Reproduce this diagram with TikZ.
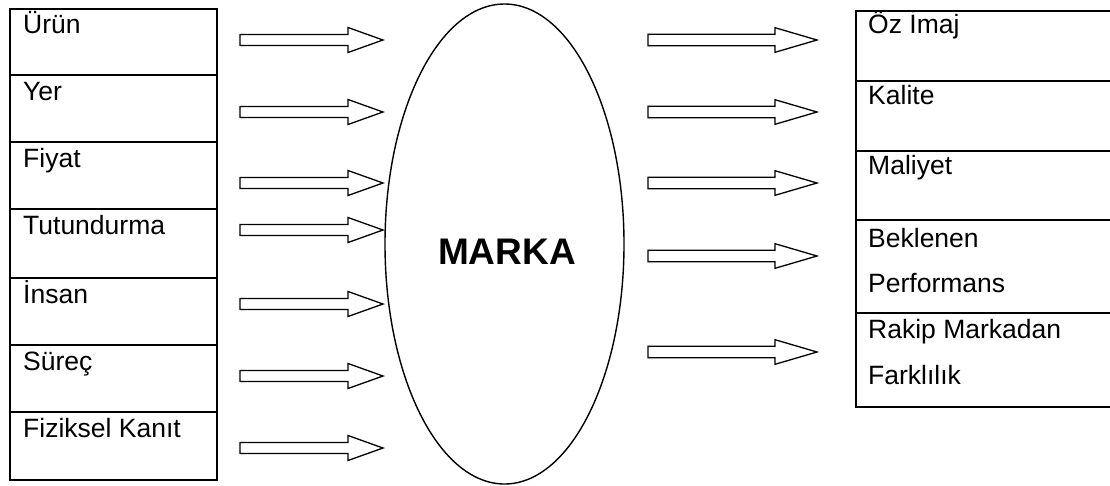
\documentclass[tikz,border=0pt]{standalone}
\usepackage{fontspec}
\setmainfont{Liberation Sans}
\tikzset{
  kutu/.style={line width=2.2pt},
  okucu/.style={line width=1.3pt, line join=miter},
  yazi/.style={anchor=base west, inner sep=0pt, font=\fontsize{26.5}{46}\selectfont},
}

\begin{document}
\begin{tikzpicture}[x=1pt, y=-1pt]
  \useasboundingbox (0,0) rectangle (1110,485);

  % left column of boxes
  \draw[kutu] (10,9) rectangle (217,480);
  \foreach \y in {75,142,209,278,345,412}
    \draw[kutu] (10,\y) -- (217,\y);
  \node[yazi] (urun) at (23,33) {Ürün};
  \node[yazi] (yer) at (23,100) {Yer};
  \node[yazi] (fiyat) at (23,167) {Fiyat};
  \node[yazi] (tutundurma) at (23,234) {Tutundurma};
  \node[yazi] (insan) at (23,303) {İnsan};
  \node[yazi] (surec) at (23,370) {Süreç};
  \node[yazi] (kanit) at (23,437) {Fiziksel Kanıt};

  % arrows into the brand
  \foreach \y in {40,112,183,230,304,376,448}
    \draw[okucu] (240,\y-5.5) -- (348,\y-5.5) -- (348,\y-12.5) -- (383,\y)
      -- (348,\y+12.5) -- (348,\y+5.5) -- (240,\y+5.5) -- cycle;

  % the brand itself
  \draw[line width=1.4pt] (504.5,244) ellipse [x radius=119.5, y radius=240];
  \node[font=\fontsize{37}{40}\selectfont\bfseries] (marka) at (507,252) {MARKA};

  % arrows out of the brand
  \foreach \y in {40,112,183,256,352}
    \draw[okucu] (648,\y-5.8) -- (775,\y-5.8) -- (775,\y-12.3) -- (817,\y)
      -- (775,\y+12.3) -- (775,\y+5.8) -- (648,\y+5.8) -- cycle;

  % right column of boxes
  \draw[kutu] (1115,11) -- (856,11) -- (856,407) -- (1115,407);
  \foreach \y in {81,151,220,313}
    \draw[kutu] (856,\y) -- (1115,\y);
  \node[yazi] (imaj) at (868,33) {Öz İmaj};
  \node[yazi] (kalite) at (868,104) {Kalite};
  \node[yazi] (maliyet) at (868,174) {Maliyet};
  \node[yazi] (beklenen) at (868,247) {Beklenen};
  \node[yazi] (performans) at (868,292) {Performans};
  \node[yazi] (rakip) at (868,338) {Rakip Markadan};
  \node[yazi] (farklilik) at (868,384) {Farklılık};
\end{tikzpicture}
\end{document}
